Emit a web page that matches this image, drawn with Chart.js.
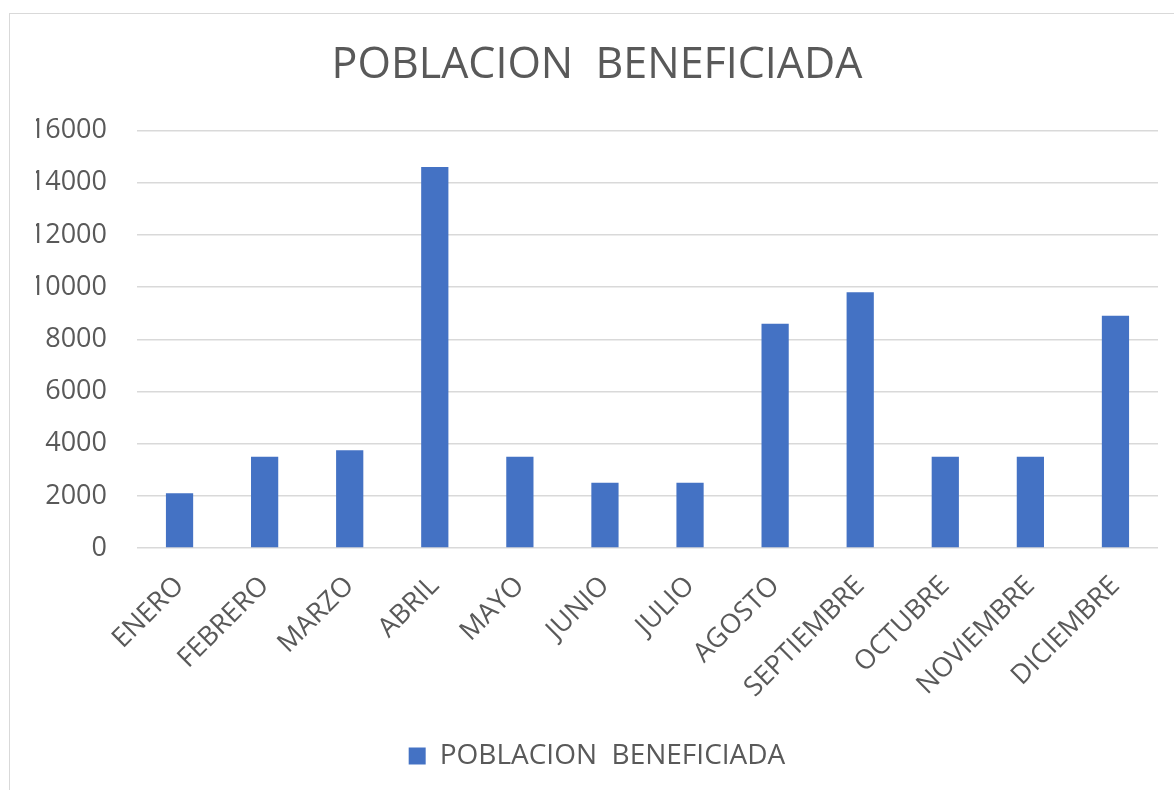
<!DOCTYPE html>
<html>
<head>
<meta charset="utf-8">
<script src="https://cdn.jsdelivr.net/npm/chart.js@4.4.1/dist/chart.umd.min.js"></script>
<style>
    html, body { margin: 0; padding: 0; background: #ffffff; overflow: hidden; }
    #frame {
        position: absolute;
        left: 9px;
        top: 13px;
        width: 1200px;
        height: 800px;
        border: 1px solid #d9d9d9;
    }
    #chart { position: absolute; left: 0; top: 0; }
</style>
</head>
<body>
<div id="frame"></div>
<canvas id="chart" width="1174" height="790"></canvas>
<script>
    // datos
    var meses = [
        "ENERO", "FEBRERO", "MARZO", "ABRIL", "MAYO", "JUNIO",
        "JULIO", "AGOSTO", "SEPTIEMBRE", "OCTUBRE", "NOVIEMBRE", "DICIEMBRE"
    ];
    var poblacion = [2100, 3500, 3750, 14600, 3500, 2500, 2500, 8600, 9800, 3500, 3500, 8900];
    var serieNombre = "POBLACION  BENEFICIADA";
    var tituloTexto = "POBLACION  BENEFICIADA";

    var gris = "#595959";
    var fuente = "'Open Sans', 'Liberation Sans', sans-serif";

    var ctx = document.getElementById("chart");
    var chart = new Chart(ctx, {
        type: "bar",
        data: {
            labels: meses,
            datasets: [
                {
                    label: serieNombre,
                    data: poblacion,
                    backgroundColor: "#4472C4",
                    borderWidth: 0,
                    categoryPercentage: 1,
                    barPercentage: 0.32
                }
            ]
        },
        options: {
            responsive: false,
            animation: false,
            layout: {
                padding: { left: 36, right: 16, top: 0, bottom: 10 }
            },
            plugins: {
                title: {
                    display: true,
                    text: tituloTexto,
                    color: gris,
                    font: { family: fuente, size: 43, weight: "normal" },
                    padding: { top: 40, bottom: 39 }
                },
                legend: {
                    display: true,
                    position: "bottom",
                    labels: {
                        color: gris,
                        font: { family: fuente, size: 28 },
                        boxWidth: 17,
                        boxHeight: 17,
                        padding: 34
                    }
                },
                tooltip: { enabled: false }
            },
            scales: {
                x: {
                    grid: { display: false },
                    border: { display: false },
                    ticks: {
                        color: gris,
                        font: { family: fuente, size: 27 },
                        maxRotation: 45,
                        minRotation: 45,
                        padding: 14
                    },
                    afterFit: function (scale) { scale.height = 160; }
                },
                y: {
                    min: 0,
                    max: 16000,
                    grid: {
                        color: "#d9d9d9",
                        lineWidth: 1.5,
                        drawTicks: false
                    },
                    border: { display: false },
                    ticks: {
                        stepSize: 2000,
                        color: gris,
                        font: { family: fuente, size: 27 },
                        padding: 30,
                        callback: function (v) { return String(v); }
                    },
                    afterFit: function (scale) { scale.width = 101; }
                }
            }
        }
    });
</script>
</body>
</html>
